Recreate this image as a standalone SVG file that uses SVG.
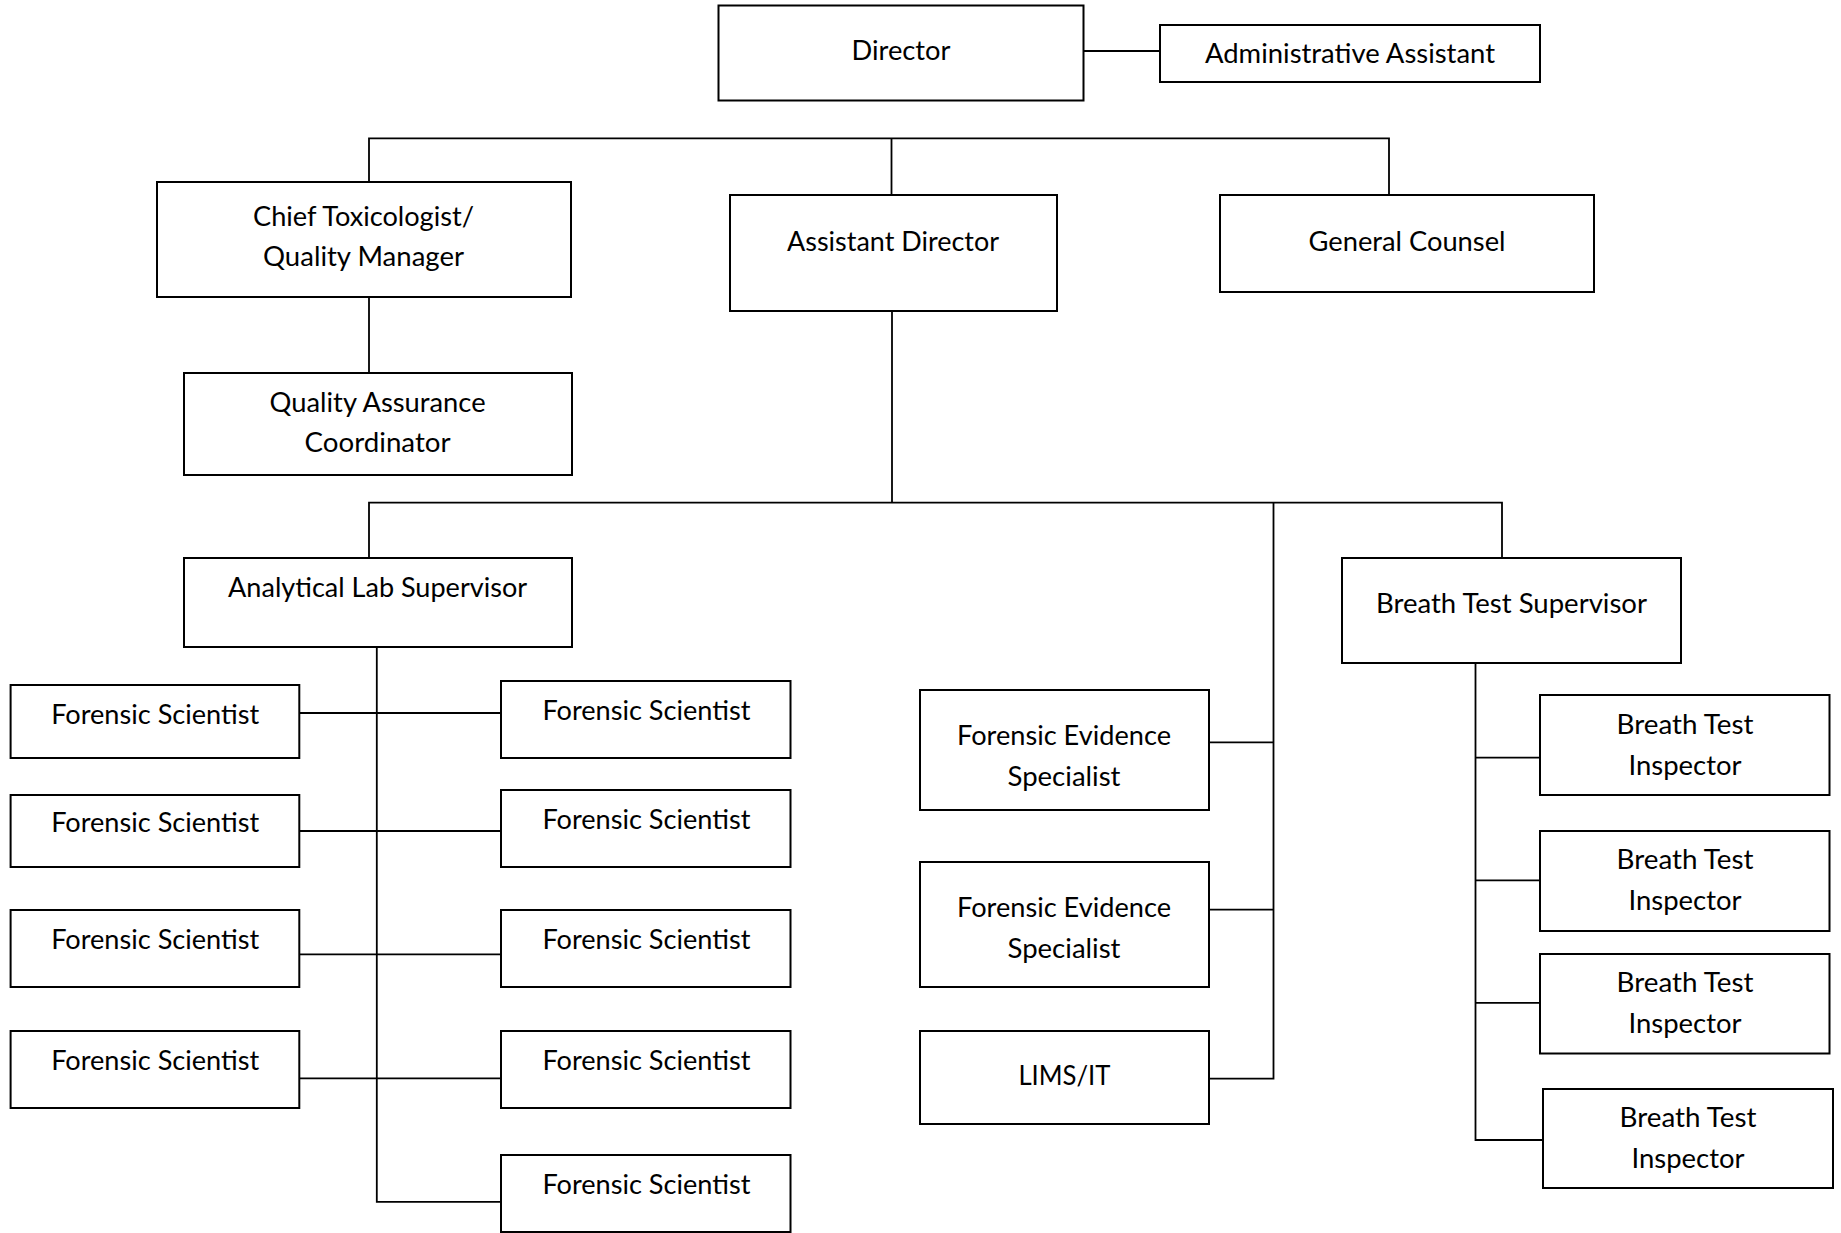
<svg xmlns="http://www.w3.org/2000/svg" width="1841" height="1233" viewBox="0 0 1841 1233">
<style>
.box{fill:#fff;stroke:#000;stroke-width:2}
.ln{fill:none;stroke:#000;stroke-width:1.8}
text{font-family:Lato,"Liberation Sans",sans-serif;font-size:27px;fill:#000;text-anchor:middle}
</style>
<rect width="1841" height="1233" fill="#fff"/>
<g id="connectors">
<path class="ln" d="M1084 51H1160"/>
<path class="ln" d="M369 182V138.4H1389V195"/>
<path class="ln" d="M891.5 138.4V195"/>
<path class="ln" d="M369 297V373"/>
<path class="ln" d="M892 311V502.6"/>
<path class="ln" d="M369 558V502.6H1502V558"/>
<path class="ln" d="M1273.5 502.6V1078.6H1209M1209 742.4H1273.5M1209 909.7H1273.5"/>
<path class="ln" d="M376.8 647V1201.8H501"/>
<path class="ln" d="M299.3 713H501M299.3 831H501M299.3 954.3H501M299.3 1078.3H501"/>
<path class="ln" d="M1475.5 662.6V1140H1543M1475.5 757.6H1540M1475.5 880.4H1540M1475.5 1002.8H1540"/>
</g>
<g id="director"><rect class="box" x="718.5" y="5.5" width="365" height="95"/><text x="901" y="60" textLength="99" lengthAdjust="spacingAndGlyphs">Director</text></g>
<g id="admin-assistant"><rect class="box" x="1160" y="25" width="380" height="57"/><text x="1350" y="63" textLength="290" lengthAdjust="spacingAndGlyphs">Administrative Assistant</text></g>
<g id="chief-toxicologist"><rect class="box" x="157" y="182" width="414" height="115"/><text x="363.5" y="225.5" textLength="221" lengthAdjust="spacingAndGlyphs">Chief Toxicologist/</text><text x="363.5" y="266" textLength="201" lengthAdjust="spacingAndGlyphs">Quality Manager</text></g>
<g id="assistant-director"><rect class="box" x="730" y="195" width="327" height="116"/><text x="893" y="251" textLength="212" lengthAdjust="spacingAndGlyphs">Assistant Director</text></g>
<g id="general-counsel"><rect class="box" x="1220" y="195" width="374" height="97"/><text x="1407" y="250.5" textLength="197" lengthAdjust="spacingAndGlyphs">General Counsel</text></g>
<g id="qa-coordinator"><rect class="box" x="184" y="373" width="388" height="102"/><text x="377.6" y="411.5" textLength="216" lengthAdjust="spacingAndGlyphs">Quality Assurance</text><text x="377.6" y="452" textLength="146" lengthAdjust="spacingAndGlyphs">Coordinator</text></g>
<g id="analytical-lab-supervisor"><rect class="box" x="184" y="558" width="388" height="89"/><text x="377.6" y="597" textLength="299" lengthAdjust="spacingAndGlyphs">Analytical Lab Supervisor</text></g>
<g id="breath-test-supervisor"><rect class="box" x="1342" y="558" width="339" height="105"/><text x="1511.5" y="613" textLength="271" lengthAdjust="spacingAndGlyphs">Breath Test Supervisor</text></g>
<g id="fs-l1"><rect class="box" x="10.6" y="685" width="288.7" height="73"/><text x="155.2" y="723.5" textLength="208" lengthAdjust="spacingAndGlyphs">Forensic Scientist</text></g>
<g id="fs-l2"><rect class="box" x="10.6" y="795" width="288.7" height="72"/><text x="155.2" y="832" textLength="208" lengthAdjust="spacingAndGlyphs">Forensic Scientist</text></g>
<g id="fs-l3"><rect class="box" x="10.6" y="910" width="288.7" height="77"/><text x="155.2" y="948.5" textLength="208" lengthAdjust="spacingAndGlyphs">Forensic Scientist</text></g>
<g id="fs-l4"><rect class="box" x="10.6" y="1031" width="288.7" height="77"/><text x="155.2" y="1069.5" textLength="208" lengthAdjust="spacingAndGlyphs">Forensic Scientist</text></g>
<g id="fs-r1"><rect class="box" x="501" y="681" width="289.5" height="77"/><text x="646.4" y="719.5" textLength="208" lengthAdjust="spacingAndGlyphs">Forensic Scientist</text></g>
<g id="fs-r2"><rect class="box" x="501" y="790" width="289.5" height="77"/><text x="646.4" y="828.5" textLength="208" lengthAdjust="spacingAndGlyphs">Forensic Scientist</text></g>
<g id="fs-r3"><rect class="box" x="501" y="910" width="289.5" height="77"/><text x="646.4" y="948.5" textLength="208" lengthAdjust="spacingAndGlyphs">Forensic Scientist</text></g>
<g id="fs-r4"><rect class="box" x="501" y="1031" width="289.5" height="77"/><text x="646.4" y="1069.5" textLength="208" lengthAdjust="spacingAndGlyphs">Forensic Scientist</text></g>
<g id="fs-r5"><rect class="box" x="501" y="1155" width="289.5" height="77"/><text x="646.4" y="1193.5" textLength="208" lengthAdjust="spacingAndGlyphs">Forensic Scientist</text></g>
<g id="fes-1"><rect class="box" x="920" y="690" width="289" height="120"/><text x="1064" y="745" textLength="214" lengthAdjust="spacingAndGlyphs">Forensic Evidence</text><text x="1064" y="785.5" textLength="113" lengthAdjust="spacingAndGlyphs">Specialist</text></g>
<g id="fes-2"><rect class="box" x="920" y="862" width="289" height="125"/><text x="1064" y="916.5" textLength="214" lengthAdjust="spacingAndGlyphs">Forensic Evidence</text><text x="1064" y="957.5" textLength="113" lengthAdjust="spacingAndGlyphs">Specialist</text></g>
<g id="lims-it"><rect class="box" x="920" y="1031" width="289" height="93"/><text x="1064.4" y="1085" textLength="92" lengthAdjust="spacingAndGlyphs">LIMS/IT</text></g>
<g id="bti-1"><rect class="box" x="1540" y="695" width="289.5" height="100"/><text x="1685" y="734" textLength="137" lengthAdjust="spacingAndGlyphs">Breath Test</text><text x="1685" y="775" textLength="113" lengthAdjust="spacingAndGlyphs">Inspector</text></g>
<g id="bti-2"><rect class="box" x="1540" y="831" width="289.5" height="100"/><text x="1685" y="868.5" textLength="137" lengthAdjust="spacingAndGlyphs">Breath Test</text><text x="1685" y="910" textLength="113" lengthAdjust="spacingAndGlyphs">Inspector</text></g>
<g id="bti-3"><rect class="box" x="1540" y="954" width="289.5" height="99.5"/><text x="1685" y="992" textLength="137" lengthAdjust="spacingAndGlyphs">Breath Test</text><text x="1685" y="1033" textLength="113" lengthAdjust="spacingAndGlyphs">Inspector</text></g>
<g id="bti-4"><rect class="box" x="1543" y="1089" width="290" height="99"/><text x="1688" y="1127" textLength="137" lengthAdjust="spacingAndGlyphs">Breath Test</text><text x="1688" y="1168" textLength="113" lengthAdjust="spacingAndGlyphs">Inspector</text></g>
</svg>
